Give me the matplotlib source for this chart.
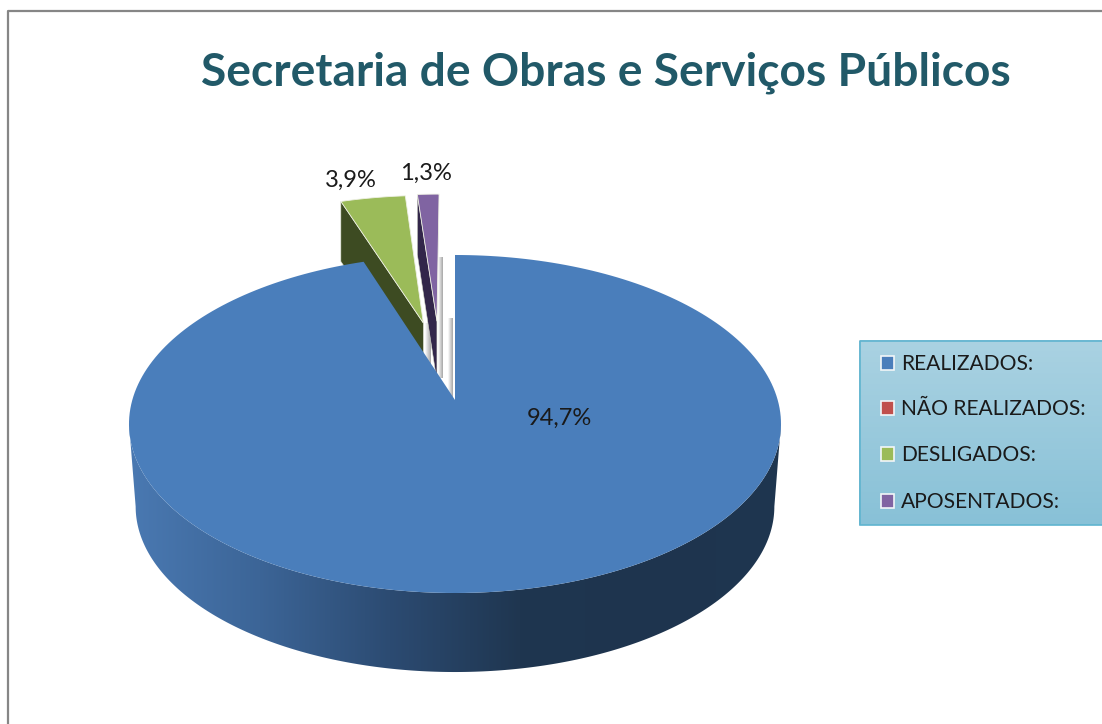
import numpy as np
import matplotlib
matplotlib.use('Agg')
import matplotlib.pyplot as plt
from matplotlib.colors import LinearSegmentedColormap
from matplotlib.patches import Polygon, Rectangle

title = 'Secretaria de Obras e Serviços Públicos'
categories = ['REALIZADOS:', 'NÃO REALIZADOS:', 'DESLIGADOS:', 'APOSENTADOS:']
values = [94.7, 0.0, 3.9, 1.3]
colors = ['#4a7ebb', '#c0504d', '#9bbb59', '#8064a2']
side_colors = ['#1f3650', '#5c2523', '#3d4b22', '#32264a']
# slice offset in the pie plane (x, y in units of the radius)
offsets = [(0, 0), (0, 0), (-0.105, 0.498), (-0.06, 0.51)]
label_pos = [(559, 418), None, (351, 180), (426, 173)]

plt.rcParams['font.family'] = ['Lato', 'DejaVu Sans']

# projective map of the tilted pie onto the pixels of the picture
CX, CY, A, B, K = 455, 400, 322.7, 165.6, 0.142


def project(x, y, depth=0):
    w = 1 + K * y
    return CX + A * x / w, CY - B * y / w + depth


def arc(a0, a1, r=1.0, off=(0, 0), depth=0):
    t = np.radians(np.linspace(a0, a1, 240))
    return project(off[0] + r * np.sin(t), off[1] + r * np.cos(t), depth)


def gradient(ax, extent, stops, horizontal=True, clip=None):
    cmap = LinearSegmentedColormap.from_list('g', stops)
    grad = np.linspace(0, 1, 256)
    grad = grad[None, :] if horizontal else grad[:, None]
    im = ax.imshow(grad, cmap=cmap, extent=extent, aspect='auto', zorder=1)
    if clip is not None:
        im.set_clip_path(clip)
    return im


fig = plt.figure(figsize=(11.02, 7.24), dpi=100)
ax = fig.add_axes([0, 0, 1, 1])
ax.set_xlim(0, 1102)
ax.set_ylim(724, 0)
ax.axis('off')

# frame
ax.plot([8, 8, 1102], [724, 11, 11], color='#868686', lw=1.6)

ax.text(605.5, 73, title, fontsize=33.2, fontweight='bold', color='#215968',
        ha='center', va='center')

# angles clockwise from the top
angles = np.cumsum([0] + values) / sum(values) * 360

# small grey inner faces seen through the gap
for x0, x1, y0, y1 in [(425, 431, 323, 365), (438, 443, 257, 378), (448, 453, 318, 400)]:
    gradient(ax, (x0, x1, y1, y0), ['#ffffff', '#a6a6a6'])

# exploded slices
for i in [2, 3]:
    a0, a1 = angles[i], angles[i + 1]
    off = offsets[i]
    ax_, ay_ = project(*off)
    x, y = arc(a0, a1, off=off)
    side = [(x[0], y[0]), (ax_, ay_), (ax_, ay_ + 60), (x[0], y[0] + 60)]
    ax.add_patch(Polygon(side, fc=side_colors[i], ec='#d8dccc', lw=0.4, zorder=2))
    top = np.column_stack([np.r_[ax_, x], np.r_[ay_, y]])
    ax.add_patch(Polygon(top, fc=colors[i], ec='#eef0e4', lw=0.6, zorder=3))

# wall of the main slice
tx, ty = arc(98, 262)
bx, by = arc(98, 262, r=0.98, depth=83.5)
wall = Polygon(np.column_stack([np.r_[tx, bx[::-1]], np.r_[ty, by[::-1]]]),
               fc='none', ec='none', zorder=4)
ax.add_patch(wall)
im = gradient(ax, (128, 782, 680, 420),
              ['#4a79b2', '#3c6597', '#2c4b72', '#1f3650', '#1e344e', '#1f3650'], clip=wall)
im.set_zorder(4)

# top of the main slice
x, y = arc(angles[0], angles[1])
top = np.column_stack([np.r_[CX, x], np.r_[CY, y]])
ax.add_patch(Polygon(top, fc=colors[0], ec='none', zorder=5))

for v, pos in zip(values, label_pos):
    if pos is not None:
        ax.text(pos[0], pos[1], f'{v:.1f}%'.replace('.', ','), fontsize=17,
                color='#1a1a1a', ha='center', va='center', zorder=6)

# legend
box = Rectangle((859.5, 340.5), 250, 184, fc='none', ec='#5fb4cf', lw=1.2, zorder=7)
ax.add_patch(box)
gradient(ax, (859, 1102, 525, 340), ['#aad2e2', '#88c1d7'], horizontal=False).set_zorder(6)
for name, c, yy in zip(categories, colors, [363, 408, 454, 501]):
    ax.add_patch(Rectangle((880.5, yy - 7), 13, 14, fc=c, ec='#f2f6f8', lw=1.2, zorder=8))
    ax.text(901, yy + 1, name, fontsize=15.1, color='#1a1a1a', ha='left', va='center', zorder=8)

ax.set_xlim(0, 1102)
ax.set_ylim(724, 0)
fig.savefig('out.png', dpi=100)
